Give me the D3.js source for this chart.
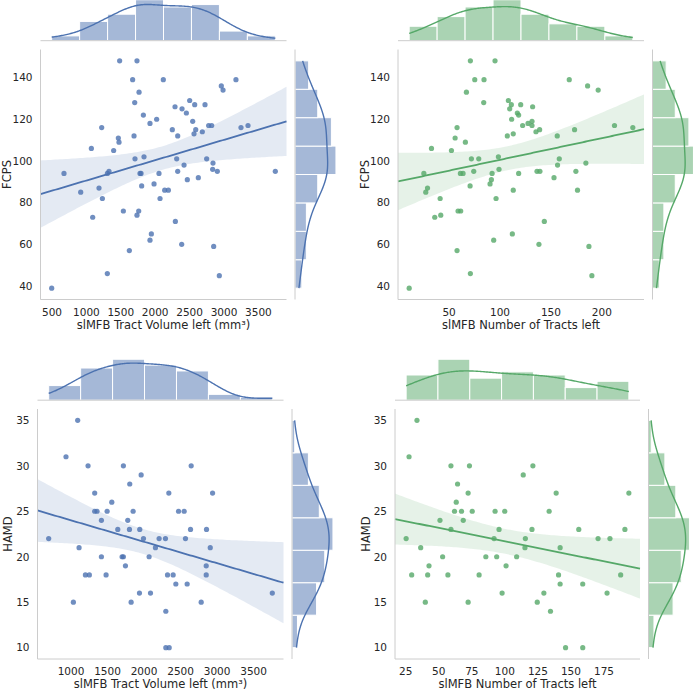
<!DOCTYPE html>
<html><head><meta charset="utf-8">
<script src="https://cdn.jsdelivr.net/npm/d3@7"></script>
<style>body{margin:0;background:#fff} svg text{font-family:"DejaVu Sans",sans-serif;fill:#262626}</style>
</head><body><svg id="c" width="693" height="691"></svg>
<script>
// ---------- data ----------
const volumeTop = [1483,1735,1672,2118,3174,1765,2961,2986,1702,2501,2574,2724,2288,2390,2453,1828,2021,1924,2545,1222,2777,2821,3247,3349,2249,2589,2685,2564,2327,1692,1464,1474,1072,1396,1837,1706,2312,2748,2840,2419,674,1328,1305,1779,1794,2055,2327,2835,2903,3746,2627,2467,1983,1803,1183,917,2138,2191,1232,2070,1537,1760,1735,1091,2293,1944,1924,1624,2385,2850,1304,2932,495];
const fcpsByVolume = [148,148,139,139,139,133,136,134,128,129,127,127,126,125,123,122,120,118,119,116,117,117,116,117,115,115,114,113,112,112,111,109,106,105,102,101,101,101,99,98,94,95,94,94,94,94,95,96,95,95,92,91,89,88,87,85,86,86,82,82,76,76,74,73,71,65,62,57,60,59,46,45,39];
const tractsTop = [70.9,95.1,75.2,84.3,168,186,196.4,67,84,108.2,111.1,109.5,120.3,132,117,118.3,111.4,131.4,127.5,131.4,122.2,57.8,135.3,138.9,173.2,212.4,230.4,113,107.2,156.2,55.9,66,32.7,52.3,98.4,71.9,79.1,158.2,99,156.5,184.3,25.2,61.1,63.7,74.2,92.2,118.3,136.3,139.2,174.5,153,91.5,90.2,70.6,28.8,27.1,113,176.1,41.2,96.1,58.8,61.4,41.8,35.9,143.5,112.1,93.8,57.8,138.2,187.3,70.9,190.2,10.8];
const fcpsByTracts = [148,148,139,139,139,136,134,133,128,129,127,125,127,126,123,122,120,119,118,117,117,116,114,115,115,117,116,113,112,112,111,109,106,105,102,101,101,101,96,98,99,94,94,94,95,94,94,95,95,95,92,91,89,88,87,85,86,86,82,82,76,76,74,73,71,65,62,57,60,59,46,45,39];
const volumeBottom = [1091,931,1233,1717,2645,1960,1804,1324,2339,2938,1558,1324,1356,1494,1850,2472,2549,1416,1777,1640,1800,1941,2636,2855,694,1992,2206,2293,2567,1110,2156,2906,1416,1699,1717,2069,1745,2851,1197,1251,1480,2321,2398,2851,2435,2590,1937,2088,3756,1032,1823,2782,2298,2298,2344];
const tractsBottom = [33.5,27.5,59.2,73.2,121.2,113.9,64.2,72.2,138.8,193.8,63.2,61.9,67.2,75.3,92.6,99.9,133.5,50.9,68.5,59.2,95.6,120.5,155.9,190.8,25.3,91.8,115.5,170.5,179.5,36.3,115.2,141.8,52.9,85.6,93.8,108.9,42.6,100.9,29.5,41.6,56.9,80.5,140.6,187.6,141.8,158.9,97.9,129.5,177.3,39.8,72.2,124.5,134.5,145.9,158.9];
const hamd = [35,31,30,30,30,29,28,27,27,27,26,25,25,25,25,25,25,24,24,23,23,23,23,23,22,22,22,22,22,21,21,21,20,20,20,20,19,19,18,18,18,18,18,18,17,17,16,16,16,15,15,15,14,10,10];

const volumeTicksTop = [500,1000,1500,2000,2500,3000,3500];
const volumeTicksBottom = [1000,1500,2000,2500,3000,3500];
const tractTicksTop = [50,100,150,200];
const tractTicksBottom = [25,50,75,100,125,150,175];
const fcpsTicks = [40,60,80,100,120,140];
const hamdTicks = [10,15,20,25,30,35];

const labelVolume = "slMFB Tract Volume left (mm³)";
const labelTracts = "slMFB Number of Tracts left";
const labelFCPS = "FCPS";
const labelHAMD = "HAMD";

// ---------- drawing ----------
const svg = d3.select("#c");
const BLUE = "#4C72B0", GREEN = "#55A868";
const SPINE = "#cccccc";

function kde(vals, grid) {
  const n = vals.length;
  const sd = d3.deviation(vals);
  const bw = sd * Math.pow(n, -0.2);
  return grid.map(g => {
    let s = 0;
    for (const v of vals) { const z = (g - v) / bw; s += Math.exp(-0.5 * z * z); }
    return s / (n * bw * Math.sqrt(2 * Math.PI));
  });
}
function histCounts(vals, nb) {
  const [mn, mx] = d3.extent(vals);
  const w = (mx - mn) / nb;
  const c = new Array(nb).fill(0);
  vals.forEach(v => { c[Math.min(nb - 1, Math.floor((v - mn) / w + 1e-9))]++; });
  return c.map((k, i) => ({x0: mn + i * w, x1: mn + (i + 1) * w, n: k}));
}

function panel(cfg) {
  const {x0, y0, w, h, xs, ys, color, xTicks, yTicks, xLabel, yLabel, nbx, nby, ylabOff} = cfg;
  const pad = e => { const m = (e[1] - e[0]) * 0.05; return [e[0] - m, e[1] + m]; };
  const xd = pad(d3.extent(xs)), yd = pad(d3.extent(ys));
  const x = d3.scaleLinear().domain(xd).range([x0, x0 + w]);
  const y = d3.scaleLinear().domain(yd).range([y0 + h, y0]);
  const g = svg.append("g");

  // regression + CI
  const n = xs.length, mx = d3.mean(xs), my = d3.mean(ys);
  let sxx = 0, sxy = 0;
  for (let i = 0; i < n; i++) { sxx += (xs[i] - mx) ** 2; sxy += (xs[i] - mx) * (ys[i] - my); }
  const b = sxy / sxx, a = my - b * mx;
  let sse = 0;
  for (let i = 0; i < n; i++) sse += (ys[i] - a - b * xs[i]) ** 2;
  const s = Math.sqrt(sse / (n - 2));
  const t = n > 60 ? 1.994 : 2.006;
  const grid = d3.range(101).map(i => xd[0] + i * (xd[1] - xd[0]) / 100);
  const band = grid.map(v => {
    const yh = a + b * v;
    const se = s * Math.sqrt(1 / n + (v - mx) ** 2 / sxx);
    return {v, yh, lo: yh - t * se, hi: yh + t * se};
  });
  g.append("path").datum(band)
    .attr("d", d3.area().x(d => x(d.v)).y0(d => y(d.lo)).y1(d => y(d.hi)))
    .attr("fill", color).attr("fill-opacity", 0.15);

  // scatter
  g.selectAll("circle.pt").data(xs.map((v, i) => [v, ys[i]])).join("circle")
    .attr("cx", d => x(d[0])).attr("cy", d => y(d[1])).attr("r", 2.6)
    .attr("fill", color).attr("fill-opacity", 0.8);

  g.append("path").datum(band)
    .attr("d", d3.line().x(d => x(d.v)).y(d => y(d.yh)))
    .attr("fill", "none").attr("stroke", color).attr("stroke-width", 1.8);

  // spines
  g.append("line").attr("x1", x0).attr("x2", x0).attr("y1", y0).attr("y2", y0 + h).attr("stroke", SPINE);
  g.append("line").attr("x1", x0).attr("x2", x0 + w).attr("y1", y0 + h).attr("y2", y0 + h).attr("stroke", SPINE);

  // ticks
  g.selectAll("text.xt").data(xTicks).join("text")
    .attr("x", d => x(d)).attr("y", y0 + h + 16).attr("text-anchor", "middle")
    .attr("font-size", 10.5).text(d => d);
  g.selectAll("text.yt").data(yTicks).join("text")
    .attr("x", x0 - 8).attr("y", d => y(d) + 3.8).attr("text-anchor", "end")
    .attr("font-size", 10.5).text(d => d);
  g.append("text").attr("x", x0 + w / 2).attr("y", y0 + h + 29).attr("text-anchor", "middle")
    .attr("font-size", 11.5).text(xLabel);
  g.append("text").attr("transform", `translate(${x0 - ylabOff},${y0 + h / 2}) rotate(-90)`)
    .attr("text-anchor", "middle").attr("dy", "0.35em").attr("font-size", 11.5).text(yLabel);

  // top marginal
  const M = 43, gapT = 8.8, gapR = 8.5;
  const mb = y0 - gapT;
  const hx = histCounts(xs, nbx);
  const kgx = d3.range(201).map(i => d3.min(xs) + i * (d3.max(xs) - d3.min(xs)) / 200);
  const bwx = hx[0].x1 - hx[0].x0;
  const kx = kde(xs, kgx).map(v => v * n * bwx);
  const ty = d3.scaleLinear().domain([0, Math.max(d3.max(hx, d => d.n), d3.max(kx)) * 1.05]).range([mb, mb - M]);
  g.selectAll("rect.hx").data(hx).join("rect")
    .attr("x", d => x(d.x0)).attr("width", d => x(d.x1) - x(d.x0))
    .attr("y", d => ty(d.n)).attr("height", d => mb - ty(d.n))
    .attr("fill", color).attr("fill-opacity", 0.5).attr("stroke", "#fff").attr("stroke-width", 1);
  g.append("path").datum(kgx.map((v, i) => [v, kx[i]]))
    .attr("d", d3.line().x(d => x(d[0])).y(d => ty(d[1])))
    .attr("fill", "none").attr("stroke", color).attr("stroke-width", 1.4);
  g.append("line").attr("x1", x0).attr("x2", x0 + w).attr("y1", mb).attr("y2", mb).attr("stroke", SPINE);

  // right marginal
  const ml = x0 + w + gapR;
  const hy = histCounts(ys, nby);
  const kgy = d3.range(201).map(i => d3.min(ys) + i * (d3.max(ys) - d3.min(ys)) / 200);
  const bwy = hy[0].x1 - hy[0].x0;
  const ky = kde(ys, kgy).map(v => v * n * bwy);
  const tx = d3.scaleLinear().domain([0, Math.max(d3.max(hy, d => d.n), d3.max(ky)) * 1.05]).range([ml, ml + M]);
  g.selectAll("rect.hy").data(hy).join("rect")
    .attr("y", d => y(d.x1)).attr("height", d => y(d.x0) - y(d.x1))
    .attr("x", ml).attr("width", d => tx(d.n) - ml)
    .attr("fill", color).attr("fill-opacity", 0.5).attr("stroke", "#fff").attr("stroke-width", 1);
  g.append("path").datum(kgy.map((v, i) => [v, ky[i]]))
    .attr("d", d3.line().x(d => tx(d[1])).y(d => y(d[0])))
    .attr("fill", "none").attr("stroke", color).attr("stroke-width", 1.4);
  g.append("line").attr("x1", ml).attr("x2", ml).attr("y1", y0).attr("y2", y0 + h).attr("stroke", SPINE);
}

panel({x0: 40.5, y0: 49.5, w: 246, h: 250, xs: volumeTop, ys: fcpsByVolume, color: BLUE,
  xTicks: volumeTicksTop, yTicks: fcpsTicks, xLabel: labelVolume, yLabel: labelFCPS, nbx: 8, nby: 8, ylabOff: 33.5});
panel({x0: 398, y0: 49.5, w: 246, h: 250, xs: tractsTop, ys: fcpsByTracts, color: GREEN,
  xTicks: tractTicksTop, yTicks: fcpsTicks, xLabel: labelTracts, yLabel: labelFCPS, nbx: 8, nby: 8, ylabOff: 33.5});
panel({x0: 37.5, y0: 409, w: 246, h: 250, xs: volumeBottom, ys: hamd, color: BLUE,
  xTicks: volumeTicksBottom, yTicks: hamdTicks, xLabel: labelVolume, yLabel: labelHAMD, nbx: 7, nby: 7, ylabOff: 29.5});
panel({x0: 395, y0: 409, w: 245, h: 250, xs: tractsBottom, ys: hamd, color: GREEN,
  xTicks: tractTicksBottom, yTicks: hamdTicks, xLabel: labelTracts, yLabel: labelHAMD, nbx: 7, nby: 7, ylabOff: 29.5});
</script></body></html>
